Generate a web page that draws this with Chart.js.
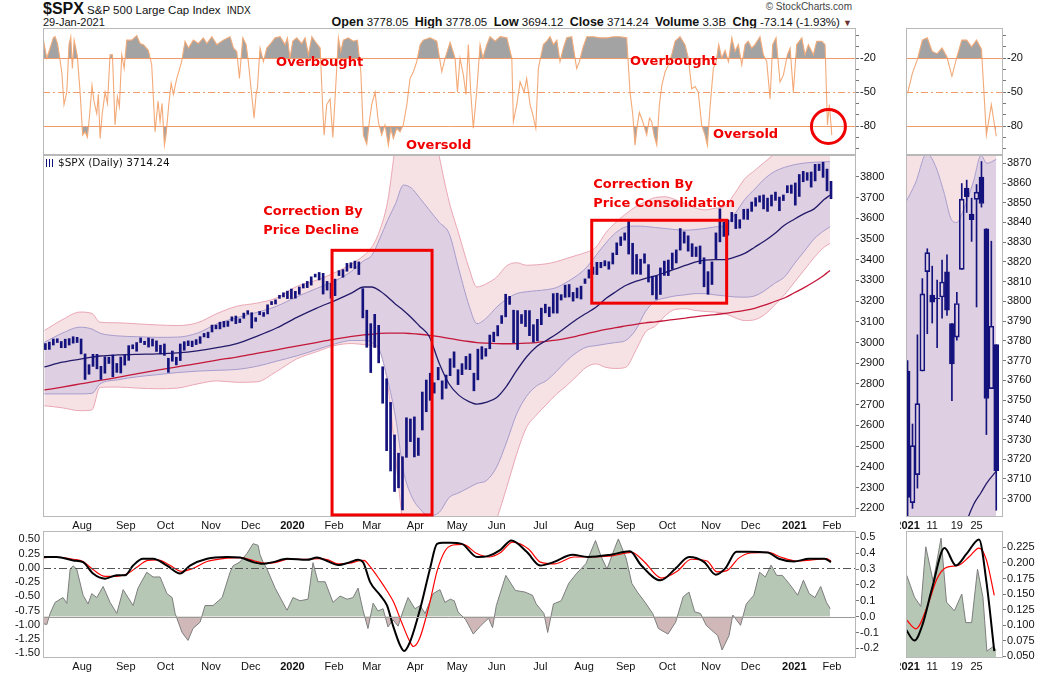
<!DOCTYPE html>
<html>
<head>
<meta charset="utf-8">
<title>$SPX S&amp;P 500 Large Cap Index</title>
<script src="https://cdn.jsdelivr.net/npm/chart.js@4.4.1/dist/chart.umd.min.js"></script>
<style>
  html, body { margin: 0; padding: 0; background: #fff; }
  body { position: relative; width: 1050px; height: 673px; overflow: hidden;
         font-family: "Liberation Sans", Arial, sans-serif; color: #111; }
  canvas { position: absolute; }
  .txt { position: absolute; white-space: nowrap; }
  .hdr b { font-weight: bold; font-size: 12.5px; }
  .ico { display: inline-block; width: 9px; height: 8px; margin-right: 3px; vertical-align: -1px;
         background: repeating-linear-gradient(90deg, #12127e 0 1px, transparent 1px 3px); }
</style>
</head>
<body>
<div class="txt" style="left:43px;top:0;font-size:11.5px;"><span style="font-weight:bold;font-size:16px;">$SPX</span> S&amp;P 500 Large Cap Index <span style="font-size:10px;margin-left:3px;">INDX</span></div>
<div class="txt" style="left:43px;top:16px;font-size:11px;">29-Jan-2021</div>
<div class="txt" style="right:198px;top:1px;font-size:10px;color:#444;">© StockCharts.com</div>
<div class="txt hdr" style="right:198px;top:15px;font-size:11.5px;"><b>Open</b> 3778.05 &nbsp;<b>High</b> 3778.05 &nbsp;<b>Low</b> 3694.12 &nbsp;<b>Close</b> 3714.24 &nbsp;<b>Volume</b> 3.3B &nbsp;<b>Chg</b> -73.14 (-1.93%) <span style="color:#6b3030;font-size:9px;">▼</span></div>

<canvas id="wrMain" width="900" height="127" style="left:0;top:28px;width:900px;height:127px"></canvas>
<canvas id="priceMain" width="900" height="380" style="left:0;top:155px;width:900px;height:380px"></canvas>
<canvas id="oscMain" width="900" height="143" style="left:0;top:530px;width:900px;height:143px"></canvas>
<canvas id="wrJan" width="150" height="127" style="left:900px;top:28px;width:150px;height:127px"></canvas>
<canvas id="priceJan" width="150" height="380" style="left:900px;top:155px;width:150px;height:380px"></canvas>
<canvas id="oscJan" width="150" height="143" style="left:900px;top:530px;width:150px;height:143px"></canvas>

<div class="txt" style="left:46px;top:156px;font:10.5px 'DejaVu Sans',Verdana,sans-serif;"><span class="ico"></span>$SPX (Daily) 3714.24</div>

<script>
// SPX daily chart – %R panel, price with bands, oscillator panel, Jan-2021 zoom
// ---------------------------------------------------------------------------
// x values are trading-day numbers, day 0 = 1-Jul-2019

const monthDays = [22, 44, 64, 87, 107, 128, 149, 168, 190, 211, 231, 253, 275, 296, 317, 339, 359, 381, 400];
const monthLabels = ['Aug', 'Sep', 'Oct', 'Nov', 'Dec', '2020', 'Feb', 'Mar', 'Apr', 'May', 'Jun', 'Jul',
  'Aug', 'Sep', 'Oct', 'Nov', 'Dec', '2021', 'Feb'];
const yearLabels = ['2020', '2021'];

const priceTicks = [2200, 2300, 2400, 2500, 2600, 2700, 2800, 2900, 3000, 3100, 3200, 3300, 3400, 3500, 3600, 3700, 3800];
const wrTicks = [-100, -90, -80, -70, -60, -50, -40, -30, -20, -10, 0];
const wrLevels = [-20, -50, -80];
const oscLeftTicks = [-1.5, -1.25, -1, -0.75, -0.5, -0.25, 0, 0.25, 0.5];
const oscRightTicks = [-0.2, -0.1, 0, 0.1, 0.2, 0.3, 0.4, 0.5];

// price: [low, high] per pair of sessions, first pair starts on day 3
const PRICE_FIRST_DAY = 3;
const priceRange = [
  [2966,2995],[2967,3002],[2988,3017],[3000,3018],[2975,3005],[2975,3016],[2988,3019],[2997,3028],[3000,3025],[2945,3017],
  [2822,2945],[2847,2893],[2885,2943],[2873,2943],[2822,2885],[2852,2931],[2899,2929],[2835,2940],[2856,2899],[2853,2930],[2891,2941],
  [2914,2985],[2970,2989],[2958,3000],[3000,3022],[2990,3006],[2978,3022],[2983,3017],[2957,3008],[2945,2987],[2938,2993],
  [2856,2924],[2910,2959],[2892,2929],[2913,2993],[2963,3004],[2985,3008],[2980,3007],[2990,3014],[2996,3028],[3027,3044],[3023,3050],
  [3051,3084],[3066,3084],[3066,3098],[3075,3102],[3078,3103],[3104,3124],[3091,3128],[3096,3114],[3117,3142],[3137,3154],
  [3070,3144],[3102,3120],[3134,3150],[3126,3145],[3138,3182],[3183,3198],[3186,3206],[3213,3228],[3220,3240],[3212,3248],[3212,3258],
  [3214,3247],[3233,3268],[3263,3283],[3265,3295],[3277,3317],[3316,3330],[3302,3338],[3234,3334],[3253,3295],[3214,3285],
  [3226,3306],[3323,3347],[3315,3352],[3344,3382],[3360,3385],[3357,3393],[3328,3389],[3119,3260],[2977,3156],[2855,3091],
  [2976,3136],[2902,3083],[2707,2883],[2478,2825],[2380,2711],[2281,2554],[2299,2466],[2192,2449],[2446,2637],[2522,2631],[2448,2641],
  [2455,2539],[2578,2761],[2666,2819],[2721,2852],[2756,2806],[2820,2880],[2727,2815],[2779,2843],[2840,2922],[2880,2955],
  [2797,2869],[2845,2898],[2871,2933],[2869,2945],[2767,2852],[2820,2968],[2920,2980],[2934,2971],[2970,3036],[3004,3050],
  [3032,3082],[3092,3130],[3124,3233],[3184,3223],[2999,3156],[2966,3154],[3092,3135],[3077,3155],[3033,3154],[3002,3086],[3008,3112],
  [3086,3166],[3143,3185],[3125,3171],[3142,3236],[3142,3238],[3205,3231],[3218,3277],[3220,3280],[3200,3242],[3215,3263],[3210,3272],
  [3285,3307],[3311,3351],[3329,3364],[3328,3387],[3361,3387],[3370,3395],[3354,3390],[3379,3432],[3424,3481],[3468,3510],[3494,3529],
  [3427,3588],[3330,3479],[3331,3425],[3329,3402],[3383,3428],[3292,3376],[3230,3320],[3209,3322],[3232,3360],[3324,3393],
  [3323,3398],[3354,3432],[3384,3447],[3446,3550],[3480,3534],[3441,3515],[3415,3477],[3415,3461],[3380,3466],[3269,3409],[3233,3342],
  [3280,3389],[3405,3529],[3486,3645],[3512,3581],[3518,3592],[3583,3628],[3550,3619],[3552,3593],[3595,3643],[3594,3644],
  [3633,3678],[3658,3699],[3678,3708],[3645,3712],[3633,3697],[3659,3712],[3686,3726],[3636,3702],[3685,3712],[3723,3757],[3720,3760],
  [3663,3770],[3705,3811],[3776,3826],[3783,3820],[3750,3823],[3780,3860],[3830,3861],[3797,3870],[3732,3837],[3694,3778]
];

// bands and averages
const bandDays = [3,12,21,27,31,40,50,60,70,80,90,100,110,120,130,140,150,158,164,168,172,176,180,184,188,192,197,202,207,212,
  217,221,226,231,236,241,246,251,256,261,266,271,276,281,286,291,296,301,306,311,316,321,326,331,336,341,346,351,356,361,
  366,371,376,381,386,391,396,399];
const outerUpper = [3058,3110,3147,3140,3098,3095,3090,3085,3082,3095,3140,3175,3190,3215,3270,3300,3340,3380,3420,3460,
  3540,3680,3950,4150,4250,4250,4150,3900,3680,3520,3360,3268,3285,3316,3370,3385,3373,3375,3380,3390,
  3405,3420,3435,3460,3530,3580,3620,3655,3680,3700,3703,3690,3670,3650,3640,3648,3658,3720,3790,3830,
  3870,3910,3950,3980,3990,3990,3980,3975];
const innerUpper = [3001,3045,3074,3065,3045,3032,3028,3025,3026,3045,3090,3120,3145,3175,3220,3260,3300,3345,3395,3420,
  3500,3590,3670,3760,3745,3700,3640,3580,3526,3350,3180,3091,3120,3171,3210,3236,3245,3250,3255,3265,
  3290,3320,3360,3420,3480,3530,3558,3562,3560,3555,3550,3545,3542,3545,3550,3558,3565,3620,3690,3740,
  3790,3825,3845,3858,3866,3870,3872,3873];
const middleLine = [2882,2905,2920,2930,2935,2940,2943,2945,2950,2960,2975,2995,3030,3070,3120,3165,3205,3240,3268,3268,
  3250,3220,3185,3155,3120,3080,3029,2900,2800,2745,2715,2703,2712,2735,2790,2864,2930,2980,3010,3040,
  3075,3110,3140,3170,3212,3245,3275,3295,3310,3322,3338,3355,3372,3388,3398,3400,3400,3412,3430,3460,
  3490,3525,3566,3595,3622,3645,3690,3711];
const innerLower = [2752,2752,2752,2755,2800,2820,2835,2845,2855,2862,2866,2870,2885,2910,2935,2965,2995,3010,3010,3000,
  2962,2820,2640,2380,2260,2200,2165,2180,2252,2275,2300,2320,2335,2400,2520,2654,2740,2790,2816,2860,
  2910,2950,2977,2985,2993,3000,3010,3060,3150,3200,3215,3225,3230,3236,3236,3230,3225,3220,3219,3225,
  3250,3285,3316,3380,3440,3500,3540,3558];
const outerLower = [2695,2685,2671,2675,2784,2785,2780,2777,2780,2800,2815,2808,2810,2860,2920,2955,2987,2995,2990,2985,
  2960,2800,2450,2100,1900,1800,1750,1750,1800,1850,1900,1950,2050,2150,2300,2460,2590,2650,2700,2750,
  2790,2835,2880,2897,2880,2875,2880,2960,3050,3080,3130,3160,3163,3155,3150,3147,3140,3120,3106,3110,
  3135,3180,3230,3290,3350,3410,3460,3478];
const ma200 = [2771,2785,2800,2810,2817,2832,2850,2867,2883,2898,2915,2930,2948,2965,2983,3000,3018,3030,3037,3040,
  3044,3045,3045,3045,3043,3040,3035,3028,3020,3012,3005,3000,2997,2995,2994,2995,2997,3000,3006,3012,
  3020,3030,3042,3053,3063,3072,3080,3088,3095,3100,3106,3112,3118,3124,3130,3135,3140,3148,3155,3165,
  3180,3198,3215,3240,3265,3293,3325,3348];

// %R  [day, value]
const wrMain = [
  [2.5,-4],[4.2,-20],[5.9,-11],[7.5,-2],[8.4,-1],[9.6,-7],[10.6,-18],[11.8,-33],[12.9,-61],[14.3,-50],[15.4,-8],[16.3,-1],
  [17.1,-29],[18,-4],[19.6,-18],[21,-50],[22.3,-88],[23.5,-85],[24.7,-90],[25.7,-72],[27,-44],[28,-58],[29.4,-69],[30.2,-52],
  [31.1,-91],[32.1,-70],[33.6,-50],[34.8,-60],[36.1,-17],[37.3,-17],[38.6,-79],[39.8,-54],[40.8,-63],[42,-17],[43.2,-29],
  [44.5,-4],[47,-4],[49.6,0],[51.2,-7],[52.9,-8],[55.4,-13],[57.1,-26],[58.8,-85],[60.3,-58],[61.3,-76],[62.3,-60],[63.5,-97],
  [64.3,-88],[65.7,-61],[66.9,-42],[68,-52],[69.7,-38],[72.2,-23],[73.9,-5],[75.6,-11],[78.1,-4],[80.6,-7],[83.1,-2],[84.9,-7],
  [87.4,-1],[89.9,-8],[93.2,-4],[96.6,-1],[98.3,-11],[100,-14],[101.3,-38],[103,-2],[104.7,-8],[105.8,-23],[107,-44],[108.7,-73],
  [109.7,-52],[110.4,-46],[111.7,-11],[113.4,-23],[115.1,-11],[117.1,-7],[119.3,-2],[121.8,-1],[124.3,-8],[125.5,-2],[126.8,-20],
  [128.2,-5],[130.2,-2],[132.7,-7],[134.4,-2],[136.1,-17],[137.8,-1],[139.4,-5],[142,-11],[143.3,-64],[144,-88],[145.3,-61],
  [147,-56],[148.4,-90],[149.5,-56],[151.2,-2],[152.4,-14],[153.7,-4],[156.2,-2],[158.7,-5],[160.8,-4],[162.5,-32],[163.8,-88],
  [165.5,-96],[166.8,-76],[168,-61],[169.7,-50],[171.3,-76],[173,-88],[174.7,-79],[176.4,-97],[177.6,-82],[178.9,-91],[180.6,-82],
  [182.3,-85],[183.9,-79],[185.7,-61],[187.3,-38],[189,-32],[190.7,-23],[192.4,-8],[194,-4],[197.4,-2],[200.8,-5],[203.3,-32],
  [205,-20],[207.5,-6],[210,-20],[211.2,-50],[212.5,-20],[214.2,-35],[215.5,-52],[216.7,-8],[217.9,-50],[219.2,-82],[220.9,-50],
  [222.6,-8],[224,-20],[226,-8],[227.6,-1],[230.2,-5],[232.7,-1],[236.1,-2],[238.6,-20],[239.4,-76],[241.1,-61],[242.8,-41],
  [244.8,-50],[246.1,-38],[247.8,-61],[249.2,-70],[250.7,-82],[252,-29],[254.5,-8],[256.2,-5],[257.9,-1],[259.6,-8],[261.3,-4],
  [262.9,-23],[264.6,-11],[266.3,-2],[268.8,-1],[271.3,-29],[272.7,-23],[274.4,-11],[276.4,-1],[279.7,-1],[283.1,-2],[286.5,-2],
  [289.8,-1],[293.2,-1],[296.5,-2],[298.2,-50],[299.6,-70],[300.7,-97],[301.9,-79],[302.9,-68],[304.6,-76],[306.6,-88],[308,-73],
  [309.1,-76],[310.3,-88],[311.7,-97],[313,-61],[314.2,-44],[315.9,-32],[317.5,-26],[319.2,-17],[320.9,-5],[323.4,-1],[325.9,-8],
  [327.6,-20],[329.3,-47],[331,-45],[332.6,-50],[334.3,-79],[336,-88],[337.2,-97],[338.5,-64],[340.2,-29],[341.6,-23],[342.9,-8],
  [344.4,-20],[346.1,-13],[347.8,-23],[349.5,-2],[351.1,-14],[352.8,-8],[354.5,-26],[356.2,-8],[357.8,-5],[359.5,-11],[361.2,-8],
  [363.7,-1],[365.4,-17],[367.1,-23],[368.8,-56],[370.1,-8],[371.8,-2],[373.8,-41],[375.5,-35],[377.5,-17],[378.9,-11],[380.5,-50],
  [382.2,-8],[384.8,-2],[386.4,-17],[388.1,-8],[390.6,-17],[392.3,-5],[394.8,-5],[396.5,-8],[397.7,-79],[398.7,-61],[399.9,-88]
];

// oscillator panel [day, value]
const oscBlack = [
  [2.3,0.19],[9.2,0.19],[17.5,0.13],[22.5,0.10],[27.5,-0.10],[33.6,-0.19],[39.6,-0.13],[43.7,-0.13],[47.7,0.04],[52.7,0.16],
  [57.8,0.16],[64.8,0.04],[71.4,-0.10],[76.4,0.04],[85,0.16],[95,0.19],[101.6,0.18],[108.2,0.10],[113.2,0.07],[118.3,0.10],
  [125.3,0.16],[135.4,0.14],[140.4,0.18],[145.5,0.12],[151,0.05],[157.1,0.10],[161.1,0.14],[163.6,0.10],[167.2,-0.25],[172.2,-0.48],
  [175.7,-0.66],[178.7,-1.01],[182.3,-1.36],[184.3,-1.46],[187.3,-1.30],[192.4,-0.72],[197.4,-0.01],[200.9,0.42],[203.9,0.44],
  [207.7,0.44],[213.4,0.42],[221.1,0.19],[226.9,0.21],[232.7,0.31],[238.4,0.48],[246.1,0.28],[252.9,0.04],[259.6,0.10],[269.2,0.23],
  [276.9,0.19],[288.5,0.23],[298.1,0.29],[303.9,0.04],[313.5,-0.22],[321.2,-0.01],[327.9,0.19],[335.6,0.10],[341.4,-0.12],
  [346.2,-0.01],[351.9,0.28],[357.7,0.28],[367.4,0.27],[373.2,0.16],[380.9,0.11],[388.5,0.16],[396.2,0.16],[399.5,0.10]
];
const oscRed = [
  [2.3,0.18],[9.2,0.19],[17.5,0.15],[22.5,0.11],[27.5,-0.03],[33.6,-0.15],[39.6,-0.15],[45,-0.10],[50,0.02],[55,0.13],[60,0.14],
  [66,0.05],[72,-0.06],[78,-0.01],[85,0.11],[95,0.17],[102,0.18],[109,0.12],[114,0.08],[119,0.09],[126,0.15],[136,0.15],[141,0.16],
  [146,0.14],[151,0.07],[157,0.08],[161,0.12],[164,0.13],[167.2,0.02],[172.2,-0.22],[176,-0.42],[179,-0.60],[183,-0.95],[187,-1.28],
  [189,-1.38],[192,-1.25],[197,-0.65],[201,-0.05],[205,0.30],[209,0.40],[214,0.41],[221,0.25],[227,0.19],[233,0.27],[239,0.45],
  [247,0.33],[253,0.10],[260,0.07],[270,0.19],[277,0.19],[289,0.21],[299,0.27],[305,0.12],[314,-0.18],[322,-0.06],[329,0.15],
  [337,0.12],[342,-0.07],[347,-0.05],[353,0.17],[359,0.26],[368,0.27],[374,0.19],[382,0.12],[390,0.14],[397,0.16],[399.5,0.12]
];
const oscHist = [
  [2.3,-0.044],[4.2,-0.05],[5.9,0.02],[8.4,0.09],[12.4,0.12],[14.3,0.084],[16,0.30],[17.5,0.32],[19.3,0.30],[22.5,0.135],[25,0.08],
  [26.9,0.145],[29.4,0.12],[32.6,0.19],[36.1,0.09],[39.5,0.02],[42.7,0.17],[45.2,0.12],[47.7,0.07],[50.2,0.18],[54.6,0.28],[57.8,0.25],
  [61.3,0.25],[64.8,0.145],[67.4,0.12],[68.9,0.02],[72.4,-0.10],[75.4,-0.15],[77.9,-0.075],[81.5,-0.035],[84,0.07],[88,0.07],
  [92.6,0.12],[96.6,0.28],[98.1,0.32],[101.6,0.345],[105.2,0.40],[108.2,0.46],[110.7,0.45],[111.7,0.39],[113.2,0.345],[115.2,0.30],
  [119.3,0.18],[125.3,0.04],[128.3,0.12],[131.9,0.10],[135.9,0.11],[138.4,0.34],[140.9,0.22],[144.5,0.22],[148.5,0.09],[152,0.13],
  [155.6,0.11],[158.6,0.12],[161.1,0.18],[163.6,0.04],[166.1,-0.075],[168.7,0.085],[171.2,0.035],[173.7,0.05],[176.2,-0.065],
  [178.7,-0.02],[181.3,-0.06],[183.8,0.035],[186.3,0.12],[189.8,0.05],[192.4,0.07],[194.9,0.02],[198.9,0.145],[202.4,0.17],
  [204.9,0.09],[207.6,0.11],[209.6,0.10],[211.5,0.03],[215.4,-0.02],[219.2,-0.11],[223.1,-0.055],[226.9,-0.01],[228.9,-0.07],
  [230.8,0.07],[235.6,0.26],[240.4,0.165],[245.2,0.155],[249,0.135],[250.9,0.08],[254.8,0.02],[256.7,-0.10],[259.6,0.08],
  [263.5,0.10],[267.3,0.21],[271.1,0.27],[276,0.335],[280.8,0.48],[283.6,0.38],[286.6,0.30],[290.4,0.43],[292.3,0.49],[296.2,0.37],
  [299.1,0.21],[301.9,0.155],[305.8,0.09],[309.6,0.02],[312.5,-0.075],[317.3,-0.11],[321.2,-0.035],[325,0.125],[327.9,0.155],
  [330.8,0.03],[333.7,0.02],[336.6,-0.055],[342.4,-0.12],[344.6,-0.21],[348.1,-0.12],[350,0.01],[353.9,-0.055],[356.8,0.08],
  [360.6,0.135],[363.5,0.28],[366.4,0.25],[369.3,0.325],[372.1,0.26],[375,0.26],[378.9,0.20],[382.7,0.135],[385.6,0.23],
  [388.5,0.145],[391.4,0.12],[394.3,0.19],[397.2,0.09],[399.1,0.05]
];

// January 2021 close-up (x = session number 0..18)
const janTickDays = [0, 5, 10, 14];
const janTickLabels = ['2021', '11', '19', '25'];
const janPriceTicks = [3700, 3710, 3720, 3730, 3740, 3750, 3760, 3770, 3780, 3790, 3800, 3810, 3820, 3830, 3840, 3850, 3860, 3870];
const janOscTicks = [0.05, 0.075, 0.1, 0.125, 0.15, 0.175, 0.2, 0.225];
const janOpen  = [3764.61,3698.02,3712.20,3764.71,3815.05,3803.14,3801.62,3802.23,3814.98,3788.73,3781.88,3816.22,3857.46,3844.24,3851.68,3862.96,3836.83,3755.75,3778.05];
const janHigh  = [3769.99,3737.83,3783.04,3811.55,3826.69,3817.86,3810.78,3820.96,3823.60,3788.73,3804.53,3859.75,3861.45,3852.31,3859.23,3870.90,3836.83,3830.50,3778.05];
const janLow   = [3662.71,3695.07,3705.34,3764.71,3783.60,3789.02,3776.51,3791.50,3792.86,3749.62,3780.37,3816.22,3845.05,3830.41,3797.16,3847.78,3732.48,3755.75,3694.12];
const janClose = [3700.65,3726.86,3748.14,3803.79,3824.68,3799.61,3801.19,3809.84,3795.54,3768.25,3798.91,3851.85,3853.07,3841.47,3855.36,3849.62,3750.77,3787.38,3714.24];
const janBandDays = [-0.4, 1.6, 3.9, 5.6, 7.3, 9, 10, 11.3, 13.4, 14.9, 16.1, 18];
const janOuterUpper = [3935, 3940, 3948, 3950, 3946, 3940, 3938, 3940, 3948, 3955, 3958, 3960];
const janInnerUpper = [3850, 3860, 3875, 3869, 3856, 3841, 3840, 3846, 3861, 3874, 3870, 3872];
const janMiddle = [3622, 3630, 3638, 3645, 3652, 3662, 3668, 3683, 3697, 3703, 3708, 3714];
const janInnerLower = [3420, 3428, 3436, 3445, 3455, 3465, 3475, 3490, 3510, 3525, 3540, 3558];
const janWr = [-51, -33, -21, -4, -2, -14, -16, -11, -19, -36, -19, -4, -4, -10, -4, -12, -88, -61, -89];
const janBlack = [[-0.4,0.094],[1.4,0.075],[3,0.10],[5,0.16],[7.5,0.224],[9.8,0.196],[12,0.215],[14.5,0.238],[16,0.17],[17.6,0.058]];
const janRed = [[-0.4,0.11],[1.7,0.094],[4,0.13],[6,0.175],[7.9,0.193],[10.3,0.196],[12.5,0.21],[14.5,0.224],[16,0.205],[17.6,0.148]];
const janHist = [[-0.4,0.185],[1.4,0.145],[2.7,0.13],[3.7,0.226],[5.2,0.17],[6.8,0.24],[7.9,0.137],[9.5,0.123],[11,0.15],
  [11.8,0.104],[13,0.104],[14.2,0.19],[15.3,0.145],[16.1,0.058],[17.3,0.065],[18,0.06]];

// annotations (data units)
const wrNotes = [
  { text: 'Overbought', day: 119.8, value: -24 },
  { text: 'Oversold', day: 185.3, value: -97 },
  { text: 'Overbought', day: 298.2, value: -23.3 },
  { text: 'Oversold', day: 340, value: -87.7 }
];
const priceNotes = [
  { text: 'Correction By', day: 113.3, value: 3630 },
  { text: 'Price Decline', day: 113.3, value: 3542 },
  { text: 'Correction By', day: 279.7, value: 3760 },
  { text: 'Price Consolidation', day: 279.7, value: 3672 }
];
const priceBoxes = [
  { d0: 148.0, d1: 198.4, v0: 2168, v1: 3445 },
  { d0: 278.9, d1: 346.9, v0: 3190, v1: 3590 }
];
const wrCircles = [{ day: 398.2, value: -80.4 }];

// ---------------------------------------------------------------------------
// look
// ---------------------------------------------------------------------------
const FONT = '"Liberation Sans", Arial, sans-serif';
const NAVY = '#14127c';
const LAVENDER = '#ded0e2';
const PINK = '#f6e2e5';
const WR_LINE = '#f3aa78';
const WR_FILL = '#a3a3a3';
const NOTE_RED = '#f00000';
const X_MIN = 2.3, X_MAX = 412.1;
const J_MIN = -0.32, J_MAX = 19.37;

Chart.defaults.font.family = FONT;

const xy = (days, vals) => vals.map((v, i) => ({ x: days[i], y: v }));
const pairs = list => list.map(([d, v]) => ({ x: d, y: v }));

function noPad(s) { s.paddingLeft = 0; s.paddingRight = 0; s.paddingTop = 0; s.paddingBottom = 0; }

function xScale(min, max, tickDays, tickLabels, height) {
  return {
    type: 'linear', min, max, offset: false, display: height > 0,
    afterBuildTicks: s => { s.ticks = tickDays.map(v => ({ value: v })); },
    afterFit: s => { s.height = height; noPad(s); },
    grid: { display: false, drawTicks: false },
    border: { display: false },
    ticks: {
      autoSkip: false, maxRotation: 0, minRotation: 0, padding: 2, color: '#111',
      font: c => ({ family: FONT, size: 11, weight: yearLabels.includes(tickLabels[c.index]) ? 'bold' : 'normal' }),
      callback: (v, i) => tickLabels[i]
    }
  };
}

function yScale({ position = 'right', min, max, ticks, fmt, width, tick = 3, pad = 1 }) {
  return {
    type: 'linear', position, min, max,
    afterBuildTicks: s => { s.ticks = ticks.map(v => ({ value: v })); },
    afterFit: s => { s.width = width; noPad(s); },
    grid: { display: tick > 0, drawOnChartArea: false, drawTicks: tick > 0, tickLength: tick, color: '#777' },
    border: { display: false },
    ticks: { autoSkip: false, padding: pad, color: '#111', font: { family: FONT, size: 11 }, callback: fmt }
  };
}

function baseOptions(padLeft, padTop, scales) {
  return {
    responsive: false, animation: false, events: [],
    layout: { padding: { left: padLeft, right: 0, top: padTop, bottom: 0 }, autoPadding: false },
    plugins: { legend: { display: false }, tooltip: { enabled: false } },
    elements: { point: { radius: 0 }, line: { tension: 0 } },
    scales
  };
}

const frame = {
  id: 'frame',
  afterDraw(chart) {
    const a = chart.chartArea, c = chart.ctx;
    c.save();
    c.strokeStyle = '#b8b8b8';
    c.lineWidth = 1;
    c.strokeRect(a.left + 0.5, a.top + 0.5, a.right - a.left - 1, a.bottom - a.top - 1);
    c.restore();
  }
};

function levelsPlugin(levels) {
  return {
    id: 'levels',
    afterDatasetsDraw(chart) {
      const { ctx, chartArea: a } = chart;
      ctx.save();
      levels.forEach(l => {
        const py = Math.round(chart.scales[l.axis].getPixelForValue(l.value)) + 0.5;
        ctx.strokeStyle = l.color;
        ctx.lineWidth = 1;
        ctx.setLineDash(l.dash || []);
        ctx.beginPath(); ctx.moveTo(a.left, py); ctx.lineTo(a.right, py); ctx.stroke();
      });
      ctx.restore();
    }
  };
}

function notesPlugin(notes, boxes, circles) {
  return {
    id: 'notes',
    afterDraw(chart) {
      const { ctx, scales: { x, y } } = chart;
      ctx.save();
      ctx.fillStyle = NOTE_RED;
      ctx.strokeStyle = NOTE_RED;
      ctx.lineWidth = 3;
      ctx.font = 'bold 13px "DejaVu Sans", Verdana, sans-serif';
      ctx.textBaseline = 'middle';
      notes.forEach(n => ctx.fillText(n.text, x.getPixelForValue(n.day), y.getPixelForValue(n.value)));
      boxes.forEach(b => {
        const x0 = x.getPixelForValue(b.d0), x1 = x.getPixelForValue(b.d1);
        const y0 = y.getPixelForValue(b.v1), y1 = y.getPixelForValue(b.v0);
        ctx.strokeRect(x0, y0, x1 - x0, y1 - y0);
      });
      circles.forEach(c => {
        ctx.beginPath();
        ctx.arc(x.getPixelForValue(c.day), y.getPixelForValue(c.value), 17, 0, Math.PI * 2);
        ctx.stroke();
      });
      ctx.restore();
    }
  };
}

const wrFmt = v => (wrLevels.includes(v) ? String(v) : '');
const wrLevelLines = [
  { axis: 'y', value: wrLevels[0], color: '#f19c68' },
  { axis: 'y', value: wrLevels[1], color: '#f19c68', dash: [7, 3, 2, 3] },
  { axis: 'y', value: wrLevels[2], color: '#f19c68' }
];

function wrDatasets(points) {
  return [
    { data: points, borderColor: WR_LINE, borderWidth: 1.1,
      fill: { target: { value: wrLevels[0] }, above: WR_FILL, below: 'rgba(0,0,0,0)' } },
    { data: points, borderColor: 'rgba(0,0,0,0)', borderWidth: 0,
      fill: { target: { value: wrLevels[2] }, above: 'rgba(0,0,0,0)', below: WR_FILL } }
  ];
}

// ---------------------------------------------------------------------------
// main %R panel
// ---------------------------------------------------------------------------
new Chart(document.getElementById('wrMain'), {
  type: 'line',
  data: { datasets: wrDatasets(pairs(wrMain)) },
  options: baseOptions(43, 0, {
    x: xScale(X_MIN, X_MAX, monthDays, monthLabels, 0),
    y: yScale({ min: -105.6, max: 6.7, ticks: wrTicks, fmt: wrFmt, width: 44 })
  }),
  plugins: [levelsPlugin(wrLevelLines), frame, notesPlugin(wrNotes, [], wrCircles)]
});

// ---------------------------------------------------------------------------
// main price panel
// ---------------------------------------------------------------------------
const smooth = { cubicInterpolationMode: 'monotone' };
new Chart(document.getElementById('priceMain'), {
  type: 'line',
  data: {
    datasets: [
      { type: 'bar', data: priceRange.map((r, i) => ({ x: PRICE_FIRST_DAY + 2 * i + 0.5, y: r })),
        backgroundColor: NAVY, barThickness: 2, grouped: false },
      { data: xy(bandDays, middleLine), borderColor: '#231a6a', borderWidth: 1.3, ...smooth },
      { data: xy(bandDays, ma200), borderColor: '#c4173a', borderWidth: 1.3, ...smooth },
      { data: xy(bandDays, innerLower), borderColor: '#a89ccd', borderWidth: 1, ...smooth },
      { data: xy(bandDays, innerUpper), borderColor: '#a89ccd', borderWidth: 1, fill: 3, backgroundColor: LAVENDER, ...smooth },
      { data: xy(bandDays, outerLower), borderColor: '#eaa6b4', borderWidth: 1, ...smooth },
      { data: xy(bandDays, outerUpper), borderColor: '#eaa6b4', borderWidth: 1, fill: 5, backgroundColor: PINK, ...smooth }
    ]
  },
  options: baseOptions(43, 0, {
    x: xScale(X_MIN, X_MAX, monthDays, monthLabels, 18),
    y: yScale({ min: 2158, max: 3905, ticks: priceTicks, fmt: v => String(v), width: 44 })
  }),
  plugins: [frame, notesPlugin(priceNotes, priceBoxes, [])]
});

// ---------------------------------------------------------------------------
// main oscillator panel
// ---------------------------------------------------------------------------
new Chart(document.getElementById('oscMain'), {
  type: 'line',
  data: {
    datasets: [
      { data: pairs(oscBlack), yAxisID: 'yL', borderColor: '#000', borderWidth: 2, ...smooth },
      { data: pairs(oscRed), yAxisID: 'yL', borderColor: '#ff0000', borderWidth: 1.2, ...smooth },
      { data: pairs(oscHist), yAxisID: 'yR', borderColor: '#7d7d7d', borderWidth: 1,
        fill: { target: { value: 0 }, above: '#b6c7b5', below: '#d0b8b8' } }
    ]
  },
  options: baseOptions(0, 1, {
    x: xScale(X_MIN, X_MAX, monthDays, monthLabels, 15),
    yL: yScale({ position: 'left', min: -1.582, max: 0.646, ticks: oscLeftTicks, fmt: v => v.toFixed(2), width: 43, tick: 0, pad: 3 }),
    yR: yScale({ min: -0.261, max: 0.54, ticks: oscRightTicks, fmt: v => v.toFixed(1), width: 44 })
  }),
  plugins: [levelsPlugin([
    { axis: 'yR', value: 0, color: '#9a9a9a' },
    { axis: 'yL', value: 0, color: '#555', dash: [8, 3, 2, 3] }
  ]), frame]
});

// ---------------------------------------------------------------------------
// January close-up panels
// ---------------------------------------------------------------------------
new Chart(document.getElementById('wrJan'), {
  type: 'line',
  data: { datasets: wrDatasets(janWr.map((v, i) => ({ x: i, y: v }))) },
  options: baseOptions(6, 0, {
    x: xScale(J_MIN, J_MAX, janTickDays, janTickLabels, 0),
    y: yScale({ min: -105.6, max: 6.7, ticks: wrTicks, fmt: wrFmt, width: 47 })
  }),
  plugins: [levelsPlugin(wrLevelLines), frame]
});

const bodyLo = janOpen.map((o, i) => Math.min(o, janClose[i]));
const bodyHi = janOpen.map((o, i) => Math.max(o, janClose[i]));
new Chart(document.getElementById('priceJan'), {
  type: 'line',
  data: {
    datasets: [
      { type: 'bar', data: janOpen.map((o, i) => ({ x: i, y: [o, janClose[i]] })),
        backgroundColor: janOpen.map((o, i) => (janClose[i] < o ? NAVY : 'rgba(0,0,0,0)')),
        borderColor: NAVY, borderWidth: 1, borderSkipped: false, barThickness: 5, grouped: false },
      { type: 'bar', data: janLow.map((l, i) => ({ x: i, y: [l, bodyLo[i]] })),
        backgroundColor: NAVY, barThickness: 1, grouped: false },
      { type: 'bar', data: janHigh.map((h, i) => ({ x: i, y: [bodyHi[i], h] })),
        backgroundColor: NAVY, barThickness: 1, grouped: false },
      { data: xy(janBandDays, janMiddle), borderColor: '#231a6a', borderWidth: 1.3, ...smooth },
      { data: xy(janBandDays, janInnerLower), borderColor: '#a89ccd', borderWidth: 1, ...smooth },
      { data: xy(janBandDays, janInnerUpper), borderColor: '#a89ccd', borderWidth: 1, fill: 4, backgroundColor: LAVENDER, ...smooth },
      { data: xy(janBandDays, janOuterUpper), borderColor: '#eaa6b4', borderWidth: 1, fill: 5, backgroundColor: PINK, ...smooth }
    ]
  },
  options: baseOptions(6, 0, {
    x: xScale(J_MIN, J_MAX, janTickDays, janTickLabels, 18),
    y: yScale({ min: 3690.7, max: 3874.2, ticks: janPriceTicks, fmt: v => String(v), width: 47 })
  }),
  plugins: [frame]
});

new Chart(document.getElementById('oscJan'), {
  type: 'line',
  data: {
    datasets: [
      { data: pairs(janBlack), borderColor: '#000', borderWidth: 2, ...smooth },
      { data: pairs(janRed), borderColor: '#ff0000', borderWidth: 1.2, ...smooth },
      { data: pairs(janHist), borderColor: '#7d7d7d', borderWidth: 1,
        fill: { target: { value: 0 }, above: '#b6c7b5', below: '#d0b8b8' } }
    ]
  },
  options: baseOptions(6, 1, {
    x: xScale(J_MIN, J_MAX, janTickDays, janTickLabels, 15),
    y: yScale({ min: 0.047, max: 0.2515, ticks: janOscTicks, fmt: v => v.toFixed(3), width: 47 })
  }),
  plugins: [frame]
});
</script>
</body>
</html>
